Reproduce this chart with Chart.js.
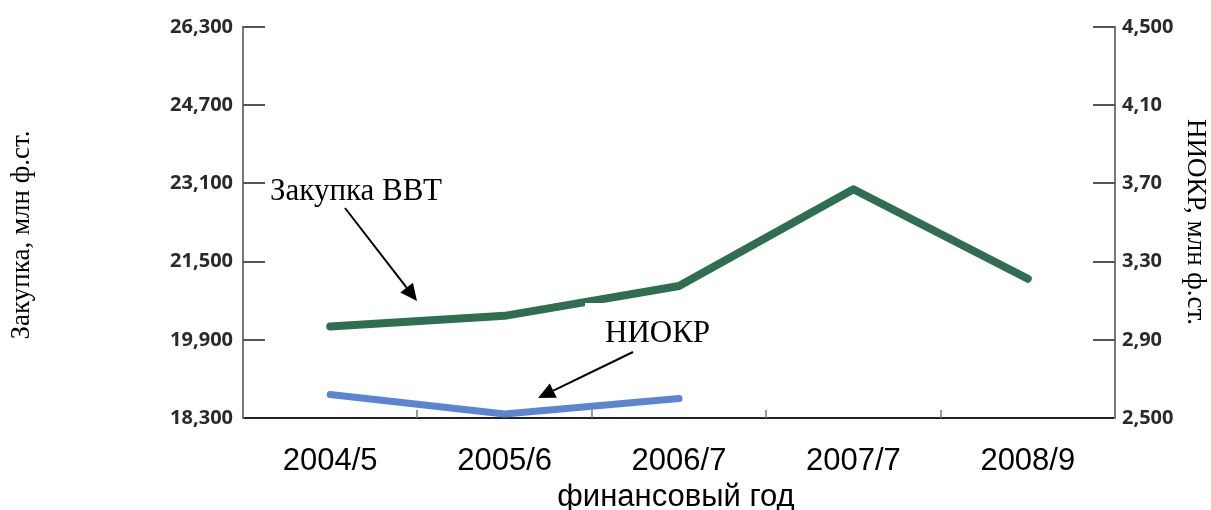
<!DOCTYPE html>
<html><head><meta charset="utf-8">
<script src="https://cdn.jsdelivr.net/npm/chart.js@4.4.1/dist/chart.umd.min.js"></script>
<style>html,body{margin:0;padding:0;background:#fff;}#wrap{width:1211px;height:510px;}</style>
</head><body><div id="wrap"><canvas id="c" width="1211" height="510"></canvas></div>
<script>
// ---- data ----
const categories = ['2004/5', '2005/6', '2006/7', '2007/7', '2008/9'];
const procurement = [20170, 20390, 21000, 22980, 21150];   // left axis
const rnd = [2620, 2520, 2600, null, null];                 // right axis
const leftMin = 18300, leftMax = 26300, leftStep = 1600;
const rightMin = 2500, rightMax = 4500, rightStep = 400;
const xTitle = 'финансовый год';
const leftTitle = 'Закупка, млн ф.ст.';
const rightTitle = 'НИОКР, млн ф.ст.';
const procLabel = 'Закупка ВВТ';
const rndLabel = 'НИОКР';

const SERIF = '"Liberation Serif", "Times New Roman", serif';
const SANS = '"Liberation Sans", Arial, sans-serif';

function arrow(ctx, x1, y1, x2, y2) {
  const ang = Math.atan2(y2 - y1, x2 - x1);
  const hl = 17, hw = 8;
  const bx = x2 - hl * Math.cos(ang), by = y2 - hl * Math.sin(ang);
  ctx.beginPath(); ctx.moveTo(x1, y1); ctx.lineTo(bx, by); ctx.stroke();
  ctx.beginPath();
  ctx.moveTo(x2, y2);
  ctx.lineTo(bx + hw * Math.sin(ang), by - hw * Math.cos(ang));
  ctx.lineTo(bx - hw * Math.sin(ang), by + hw * Math.cos(ang));
  ctx.closePath(); ctx.fill();
}

const decor = {
  id: 'decor',
  afterDraw(chart) {
    const ctx = chart.ctx;
    const { x, y, y1 } = chart.scales;
    ctx.save();
    // inward tick marks on value axes
    ctx.strokeStyle = '#555'; ctx.lineWidth = 2;
    y.ticks.forEach(t => {
      if (t.value === leftMin) return;
      const py = Math.round(y.getPixelForValue(t.value));
      ctx.beginPath(); ctx.moveTo(y.right, py); ctx.lineTo(y.right + 22, py); ctx.stroke();
    });
    y1.ticks.forEach(t => {
      if (t.value === rightMin) return;
      const py = Math.round(y1.getPixelForValue(t.value));
      ctx.beginPath(); ctx.moveTo(y1.left, py); ctx.lineTo(y1.left - 22, py); ctx.stroke();
    });
    // small upward ticks between categories
    ctx.strokeStyle = '#777'; ctx.lineWidth = 1.5;
    for (let i = 0; i < categories.length - 1; i++) {
      const px = Math.round((x.getPixelForValue(i) + x.getPixelForValue(i + 1)) / 2);
      ctx.beginPath(); ctx.moveTo(px, x.top); ctx.lineTo(px, x.top - 8); ctx.stroke();
    }
    // annotation: procurement
    ctx.fillStyle = '#000'; ctx.strokeStyle = '#000'; ctx.lineWidth = 2;
    ctx.font = '31px ' + SERIF; ctx.textAlign = 'left'; ctx.textBaseline = 'alphabetic';
    ctx.fillText(procLabel, 270, 200);
    arrow(ctx, 345, 208, 417, 301);
    // annotation: R&D with white box
    ctx.fillStyle = '#fff'; ctx.fillRect(585, 303, 135, 45);
    ctx.fillStyle = '#000';
    ctx.fillText(rndLabel, 605, 342);
    arrow(ctx, 633, 352, 538, 398);
    // right title box
    ctx.fillStyle = '#fff'; ctx.fillRect(1162, 93, 49, 264);
    ctx.fillStyle = '#000';
    ctx.font = '27px ' + SERIF; ctx.textAlign = 'center'; ctx.textBaseline = 'middle';
    ctx.save(); ctx.translate(1195, 222); ctx.rotate(Math.PI / 2); ctx.fillText(rightTitle, 0, 0); ctx.restore();
    // left title
    ctx.save(); ctx.translate(22, 235); ctx.rotate(-Math.PI / 2); ctx.fillText(leftTitle, 0, 0); ctx.restore();
    // x title
    ctx.font = '31px ' + SANS; ctx.textBaseline = 'alphabetic';
    ctx.fillText(xTitle, (x.left + x.right) / 2 - 3, 506);
    ctx.restore();
  }
};

const tickFont = { family: '"Open Sans", sans-serif', size: 20, weight: 'bold' };

new Chart(document.getElementById('c'), {
  type: 'line',
  data: {
    labels: categories,
    datasets: [
      { label: procLabel, data: procurement, yAxisID: 'y', borderColor: '#2f6e50', borderWidth: 8,
        pointRadius: 0, borderCapStyle: 'round', borderJoinStyle: 'round', tension: 0 },
      { label: rndLabel, data: rnd, yAxisID: 'y1', borderColor: '#5b86cf', borderWidth: 7,
        pointRadius: 0, borderCapStyle: 'round', borderJoinStyle: 'round', tension: 0, spanGaps: false }
    ]
  },
  options: {
    responsive: false, animation: false, devicePixelRatio: 1,
    layout: { padding: { top: 27, left: 0, right: 0, bottom: 0 } },
    plugins: { legend: { display: false }, tooltip: { enabled: false } },
    scales: {
      x: {
        type: 'category', offset: true,
        grid: { display: false, drawTicks: false },
        border: { display: true, color: '#222', width: 2 },
        ticks: { padding: 25, color: '#000', maxRotation: 0, autoSkip: false, font: { family: SANS, size: 31 } },
        afterFit(s) { s.height = 92; }
      },
      y: {
        position: 'left', min: leftMin, max: leftMax,
        grid: { display: false, drawTicks: false },
        border: { display: true, color: '#777', width: 2 },
        ticks: { stepSize: leftStep, padding: 10, color: '#2a2a2a', font: tickFont },
        afterFit(s) { s.width = 243; }
      },
      y1: {
        position: 'right', min: rightMin, max: rightMax,
        grid: { display: false, drawTicks: false },
        border: { display: true, color: '#777', width: 2 },
        ticks: { stepSize: rightStep, padding: 7, color: '#2a2a2a', font: tickFont },
        afterFit(s) { s.width = 96; }
      }
    }
  },
  plugins: [decor]
});
</script>
</body></html>
